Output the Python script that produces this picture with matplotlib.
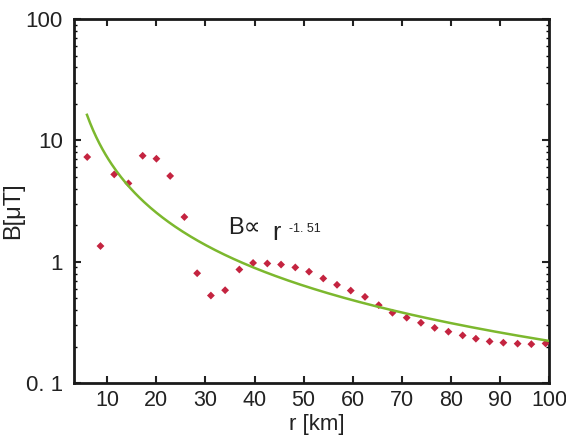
import numpy as np
import matplotlib
matplotlib.use("Agg")
import matplotlib.pyplot as plt
from matplotlib.ticker import LogLocator, FixedLocator, NullFormatter

# data
r_obs = [5.9, 8.6, 11.4, 14.3, 17.2, 20.0, 22.8, 25.7, 28.3, 31.1, 34.0, 36.9,
         39.7, 42.6, 45.4, 48.3, 51.1, 54.0, 56.8, 59.6, 62.5, 65.3, 68.1,
         71.0, 73.9, 76.7, 79.5, 82.4, 85.1, 87.9, 90.7, 93.6, 96.4, 99.3]
B_obs = [7.3, 1.35, 5.25, 4.43, 7.48, 7.07, 5.1, 2.34, 0.806, 0.528, 0.584, 0.865,
         0.98, 0.97, 0.95, 0.90, 0.83, 0.73, 0.647, 0.58, 0.515, 0.44, 0.381,
         0.347, 0.315, 0.286, 0.266, 0.248, 0.233, 0.221, 0.216, 0.212, 0.21, 0.213]
fit_coef = 234.0
fit_exp = -1.51
fit_r_range = (5.85, 100.0)

x_ticks = [10, 20, 30, 40, 50, 60, 70, 80, 90, 100]
y_ticks = [0.1, 1, 10, 100]
y_tick_labels = ["0. 1", "1", "10", "100"]

font = ["Liberation Sans Narrow", "Liberation Sans", "DejaVu Sans"]
plt.rcParams['font.family'] = font

fig = plt.figure(figsize=(5.66, 4.36), dpi=100)
ax = fig.add_axes([0.1307, 0.1209, 0.8393, 0.8355])

ax.set_yscale("log")
ax.set_xlim(3.2, 100)
ax.set_ylim(0.1, 100)

ax.scatter(r_obs, B_obs, s=16, marker="D", color="#c42440", edgecolors="none", zorder=3)

rr = np.linspace(fit_r_range[0], fit_r_range[1], 300)
ax.plot(rr, fit_coef * rr ** fit_exp, color="#7cb82e", lw=1.8, zorder=4)

txt_col = "#222222"
ax.text(34.6, 1.70, "B\u221d", fontsize=17, va="baseline", ha="left", color=txt_col,
        family=["Liberation Sans", "DejaVu Sans"])
ax.text(43.6, 1.52, "r", fontsize=18, va="baseline", ha="left", color=txt_col,
        family=["Liberation Sans", "DejaVu Sans"])
ax.text(47.1, 1.775, "-1. 51", fontsize=9, va="baseline", ha="left", color=txt_col)

ax.xaxis.set_major_locator(FixedLocator(x_ticks))
ax.set_xticklabels([str(t) for t in x_ticks])
ax.yaxis.set_major_locator(FixedLocator(y_ticks))
ax.set_yticklabels(y_tick_labels)
ax.yaxis.set_minor_locator(LogLocator(base=10, subs=np.arange(2, 10)))
ax.yaxis.set_minor_formatter(NullFormatter())

ax.tick_params(axis="both", which="major", direction="in", length=5, width=1.5,
               top=True, right=True, labelsize=16, colors=txt_col)
ax.tick_params(axis="x", pad=5, labelsize=15.5)
ax.tick_params(axis="y", pad=8)
ax.tick_params(axis="y", which="minor", direction="in", length=2.5, width=1,
               right=True, left=True)

for s in ax.spines.values():
    s.set_linewidth(2)
    s.set_color("#1a1a1a")

ax.set_xlabel("r [km]", fontsize=16, color=txt_col)
ax.xaxis.set_label_coords(0.512, -0.085)
ax.set_ylabel("B[\u03bcT]", fontsize=17, color=txt_col,
              family=["Liberation Sans", "DejaVu Sans"])
ax.yaxis.set_label_coords(-0.104, 0.473)

fig.savefig("out.png", dpi=100)
